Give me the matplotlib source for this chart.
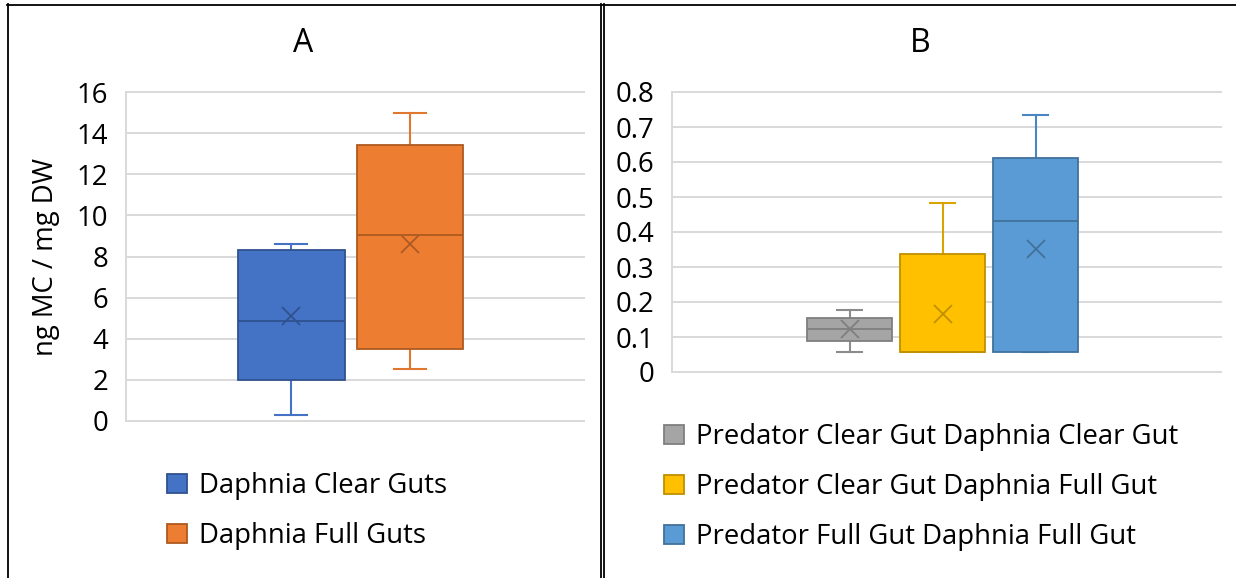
import numpy as np
import matplotlib.pyplot as plt
from matplotlib.lines import Line2D

W, H = 1236, 578

# Panel A: MC content of Daphnia
labels_a = ["Daphnia Clear Guts", "Daphnia Full Guts"]
whislo_a = [0.3, 2.5]
q1_a = [2.0, 3.5]
med_a = [4.85, 9.05]
q3_a = [8.3, 13.45]
whishi_a = [8.6, 15.0]
mean_a = [5.1, 8.6]
yticks_a = [0, 2, 4, 6, 8, 10, 12, 14, 16]

# Panel B: MC content of predators
labels_b = ["Predator Clear Gut Daphnia Clear Gut",
            "Predator Clear Gut Daphnia Full Gut",
            "Predator Full Gut Daphnia Full Gut"]
whislo_b = [0.057, 0.057, 0.057]
q1_b = [0.089, 0.057, 0.057]
med_b = [0.122, 0.057, 0.431]
q3_b = [0.155, 0.338, 0.611]
whishi_b = [0.177, 0.483, 0.734]
mean_b = [0.124, 0.167, 0.351]
yticks_b = [0, 0.1, 0.2, 0.3, 0.4, 0.5, 0.6, 0.7, 0.8]

fill_a = ["#4472C4", "#ED7D31"]
edge_a = ["#2F528F", "#AE5A21"]
whisk_a = ["#4472C4", "#E0772F"]
fill_b = ["#A5A5A5", "#FFC000", "#5B9BD5"]
edge_b = ["#7F7F7F", "#BF9000", "#41719C"]
whisk_b = ["#8C8C8C", "#D9A400", "#4A86C0"]

plt.rcParams['font.family'] = ['Open Sans', 'DejaVu Sans']
FS = 19.8
GRID = "#D9D9D9"


def fx(px):
    return px / W


def fy(py):
    return 1 - py / H


def make_stats(lo, q1, med, q3, hi, mean):
    return [dict(whislo=a, q1=b, med=c, q3=d, whishi=e, mean=f, fliers=[])
            for a, b, c, d, e, f in zip(lo, q1, med, q3, hi, mean)]


def draw_panel(ax, stats, fills, edges, whisks, width, xlim, yticks, pad):
    pos = np.arange(1, len(stats) + 1)
    parts = ax.bxp(stats, positions=pos, widths=width, patch_artist=True,
                   showmeans=True, showfliers=False,
                   capwidths=width * 0.3,
                   meanprops=dict(marker='x', markersize=12.5, markeredgewidth=1.3))
    for i in range(len(stats)):
        box = parts['boxes'][i]
        box.set_facecolor(fills[i])
        box.set_edgecolor(edges[i])
        box.set_linewidth(1.3)
        box.set_zorder(3)
        parts['medians'][i].set(color=edges[i], linewidth=1.3, zorder=4)
        parts['means'][i].set(markeredgecolor=edges[i], zorder=5)
        for ln in parts['whiskers'][2 * i:2 * i + 2] + parts['caps'][2 * i:2 * i + 2]:
            ln.set(color=whisks[i], linewidth=1.5, zorder=2)
    ax.set_xlim(*xlim)
    ax.set_ylim(yticks[0], yticks[-1])
    ax.set_yticks(yticks)
    ax.set_yticklabels(["{:g}".format(t) for t in yticks])
    ax.set_xticks([])
    ax.yaxis.grid(True, color=GRID, linewidth=1.4, clip_on=False)
    ax.set_axisbelow(True)
    for s in ['top', 'right', 'bottom']:
        ax.spines[s].set_visible(False)
    ax.spines['left'].set_color(GRID)
    ax.spines['left'].set_linewidth(1.4)
    ax.tick_params(axis='y', length=0, pad=pad, labelsize=FS, labelcolor='black')
    return parts['boxes']


fig = plt.figure(figsize=(W / 100, H / 100), dpi=100)

# panel A axes (pixel extents of the plot area)
ax_a = fig.add_axes([fx(125.5), fy(420.7), fx(583.6) - fx(125.5), fy(92.3) - fy(420.7)])
boxes_a = draw_panel(ax_a, make_stats(whislo_a, q1_a, med_a, q3_a, whishi_a, mean_a),
                     fill_a, edge_a, whisk_a, 0.9, (-0.40, 3.465), yticks_a, 12.5)

ax_b = fig.add_axes([fx(672), fy(372), fx(1221) - fx(672), fy(92) - fy(372)])
boxes_b = draw_panel(ax_b, make_stats(whislo_b, q1_b, med_b, q3_b, whishi_b, mean_b),
                     fill_b, edge_b, whisk_b, 0.914, (-0.909, 4.994), yticks_b, 13)

leg_kw = dict(loc='upper left', bbox_transform=fig.transFigure, frameon=False,
              fontsize=FS, handlelength=0.73, handleheight=0.73,
              handletextpad=0.45, labelspacing=0.8, borderpad=0, borderaxespad=0)
ax_a.legend(boxes_a, labels_a, bbox_to_anchor=(fx(167), fy(472)), **leg_kw)
ax_b.legend(boxes_b, labels_b, bbox_to_anchor=(fx(664), fy(423)), **leg_kw)

fig.text(fx(303.5), fy(44), "A", fontsize=23, ha='center', va='center')
fig.text(fx(920.5), fy(44), "B", fontsize=23, ha='center', va='center')
fig.text(fx(46), fy(257), "ng MC / mg DW", fontsize=FS, rotation=90,
         ha='center', va='center')

# panel frames
frame = dict(color='black', linewidth=1.3, transform=fig.transFigure)
fig.add_artist(Line2D([fx(7), fx(1236)], [fy(4.5), fy(4.5)], **frame))
fig.add_artist(Line2D([fx(7.5), fx(7.5)], [fy(4), fy(578)], **frame))
fig.add_artist(Line2D([fx(601), fx(601)], [fy(4), fy(578)], **frame))
fig.add_artist(Line2D([fx(603.5), fx(603.5)], [fy(4), fy(578)], **frame))

fig.savefig("out.png", dpi=100)
